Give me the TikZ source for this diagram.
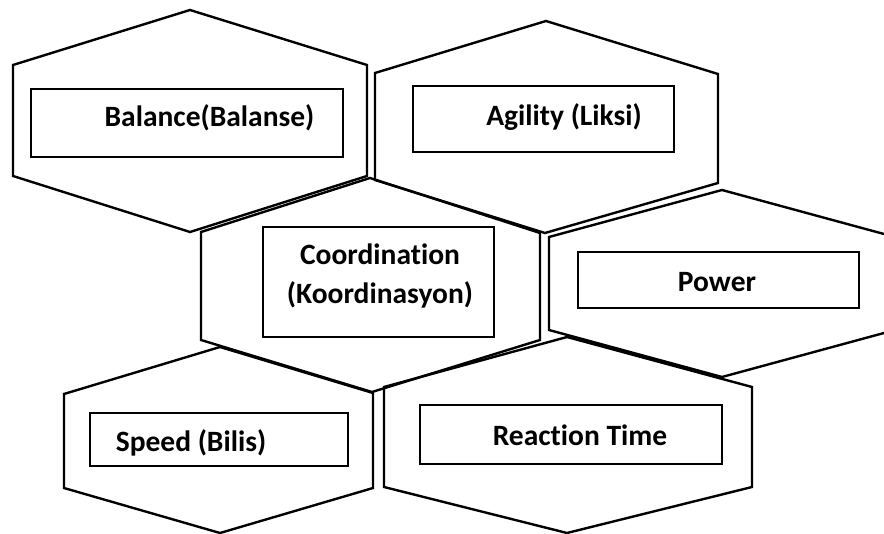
\documentclass[tikz,border=0pt]{standalone}
\usepackage{fontspec}
\setmainfont{Carlito}[Ligatures={NoCommon,NoContextual}]
\begin{document}
\begin{tikzpicture}[x=1pt,y=-1pt,
  hex/.style={line width=2.4pt, line join=miter},
  box/.style={draw, line width=1.2pt, inner sep=0pt, minimum width=#1},
  lbl/.style={font=\fontsize{29.5}{39}\selectfont\bfseries, inner sep=0pt, align=center}]
\useasboundingbox (0,0) rectangle (884,534);
\clip (0,0) rectangle (884,534);
% hexagons
\draw[hex] (190,10) -- (367,65) -- (367,176) -- (190,232) -- (13,176) -- (13,65) -- cycle;
\draw[hex] (546,21) -- (718,74) -- (718,183) -- (545,233) -- (375,180) -- (375,73) -- cycle;
\draw[hex] (370,178) -- (540,233) -- (540,340) -- (372,392) -- (201,340) -- (201,232) -- cycle;
\draw[hex] (722,190) -- (895,237) -- (895,330) -- (722,377) -- (549,330) -- (549,237) -- cycle;
\draw[hex] (220,347) -- (373,393) -- (373,488) -- (220,533) -- (64,488) -- (64,394) -- cycle;
\draw[hex] (567,337) -- (752,387) -- (752,487) -- (567,533) -- (384,487) -- (384,387) -- cycle;
% boxes
\node[box=312pt, minimum height=68pt] (b1) at (187,123) {};
\node[box=261pt, minimum height=66pt] (b2) at (543.5,119) {};
\node[box=231pt, minimum height=110pt] (b3) at (378.5,282) {};
\node[box=281pt, minimum height=56pt] (b4) at (718.5,280) {};
\node[box=258pt, minimum height=53pt] (b5) at (219,439.5) {};
\node[box=302pt, minimum height=59pt] (b6) at (571,434.5) {};
% labels
\node[lbl] (t1) at (209.5,118) {Balance(Balanse)};
\node[lbl] (t2) at (564,117) {Agility (Liksi)};
\node[lbl] (t3) at (380,276) {Coordination\\(Koordinasyon)};
\node[lbl] (t4) at (717,282) {Power};
\node[lbl] (t5) at (191,443) {Speed (Bilis)};
\node[lbl] (t6) at (580,435) {Reaction Time};
\end{tikzpicture}
\end{document}
